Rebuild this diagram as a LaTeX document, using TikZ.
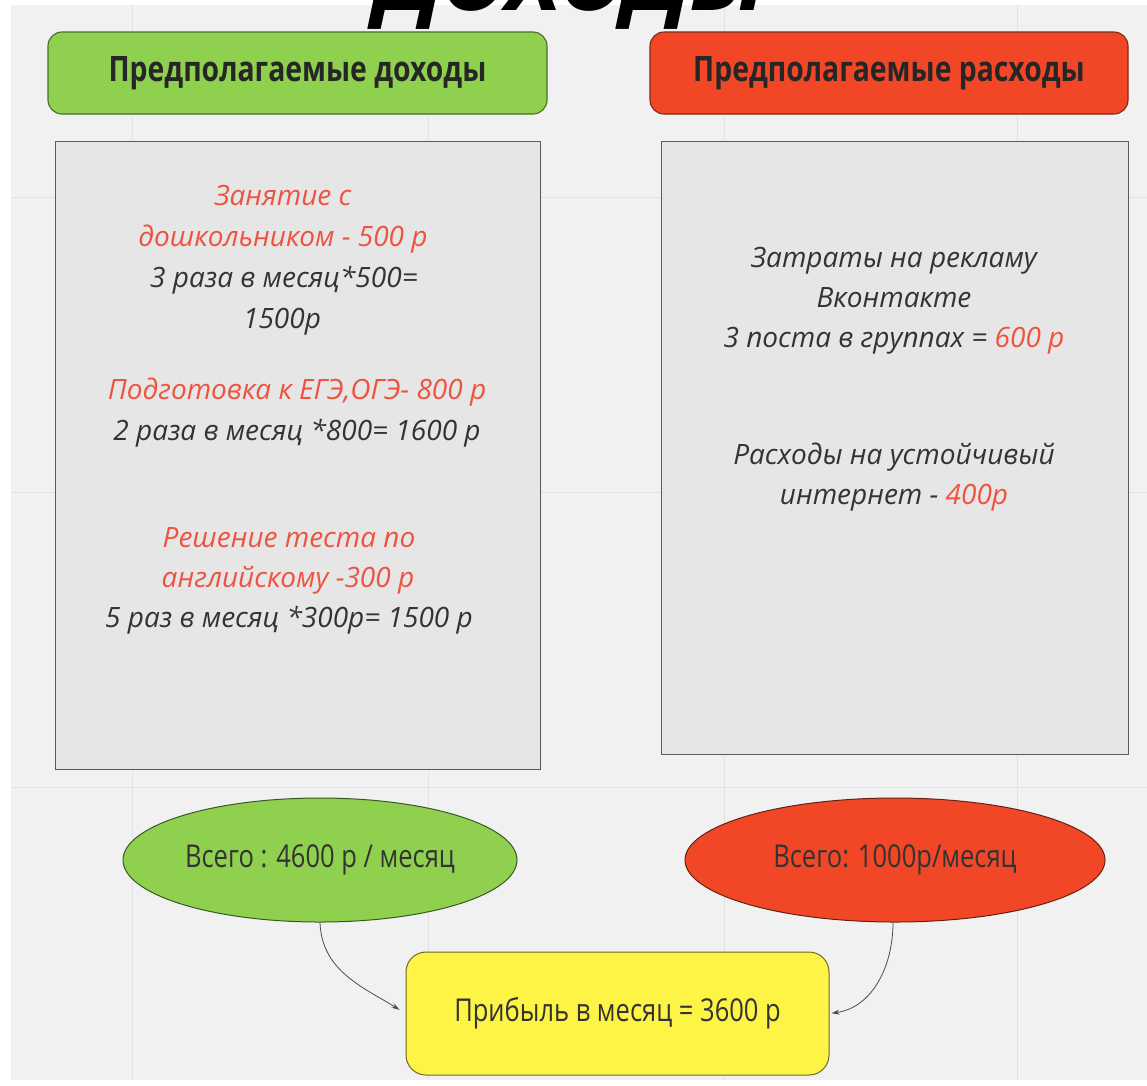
\documentclass[tikz,border=0pt]{standalone}
\usepackage{fontspec}
\setmainfont{Open Sans}
\newfontfamily\condfont[FakeStretch=0.81]{Open Sans}
\usetikzlibrary{shapes.geometric,arrows.meta}
\definecolor{canvas}{HTML}{F1F1F1}
\definecolor{gridc}{HTML}{E2E2E2}
\definecolor{greenf}{HTML}{8FD14F}
\definecolor{greenb}{HTML}{4A6E2A}
\definecolor{redf}{HTML}{F24726}
\definecolor{redb}{HTML}{7E2A18}
\definecolor{greyf}{HTML}{E6E6E6}
\definecolor{greyb}{HTML}{5A5A5A}
\definecolor{yelf}{HTML}{FEF445}
\definecolor{yelb}{HTML}{6E6A2A}
\definecolor{txtred}{HTML}{EE5340}
\definecolor{txtdark}{HTML}{333333}
\begin{document}
\begin{tikzpicture}[x=1pt,y=1pt,
  ln/.style={anchor=base,inner sep=0pt,font=\fontsize{28}{32}\selectfont\itshape,text=txtdark},
  lnred/.style={ln,text=txtred},
  header/.style={draw,line width=1.1pt,rounded corners=14pt,inner sep=0pt,
    font=\condfont\bfseries\fontsize{35}{38}\selectfont,text=black!85},
  panel/.style={draw=greyb,fill=greyf,line width=1pt,inner sep=0pt},
  total/.style={ellipse,draw,line width=1pt,inner sep=0pt,
    font=\condfont\fontsize{31.5}{34}\selectfont,text=black!80},
  result/.style={draw=yelb,fill=yelf,line width=1pt,rounded corners=20pt,inner sep=0pt,
    font=\condfont\fontsize{31.5}{34}\selectfont,text=black!80},
  link/.style={draw=black!70,line width=0.8pt,-{Stealth[length=8pt,width=5pt]}}
]
\useasboundingbox (0,0) rectangle (1147,-1085);
\fill[white] (0,0) rectangle (1147,-1085);
\fill[canvas] (11,-5) rectangle (1147,-1080);
% grid
\foreach \gx in {132,428,724,1017} \draw[gridc,line width=1pt] (\gx,-5) -- (\gx,-1080);
\foreach \gy in {197,492,787} \draw[gridc,line width=1pt] (11,-\gy) -- (1147,-\gy);
% cropped title
\begin{scope}
\clip (0,0) rectangle (1147,-1085);
\node[anchor=base,inner sep=0pt,font=\fontsize{91}{91}\selectfont\bfseries\itshape] (title) at (572,-10) {ДОХОДЫ};
\end{scope}
% headers
\node[header,fill=greenf,draw=greenb,minimum width=499pt,minimum height=82pt] (hin) at (297.5,-73) {Предполагаемые доходы};
\node[header,fill=redf,draw=redb,minimum width=478pt,minimum height=82pt] (hout) at (889,-73) {Предполагаемые расходы};
% panels
\node[panel,minimum width=485pt,minimum height=628pt] (pin) at (297.5,-455) {};
\node[panel,minimum width=467pt,minimum height=613pt] (pout) at (894.5,-447.5) {};
% left panel text
\node[lnred] (l1) at (283,-205) {Занятие с};
\node[lnred] (l2) at (283,-246) {дошкольником - 500 р};
\node[ln] (l3) at (284,-287) {3 раза в месяц*500=};
\node[ln] (l4) at (282,-328) {1500р};
\node[lnred] (l5) at (297,-399) {Подготовка к ЕГЭ,ОГЭ- 800 р};
\node[ln] (l6) at (297,-440) {2 раза в месяц *800= 1600 р};
\node[lnred] (l7) at (289,-547) {Решение теста по};
\node[lnred] (l8) at (288,-587) {английскому -300 р};
\node[ln] (l9) at (289,-627) {5 раз в месяц *300р= 1500 р};
% right panel text
\node[ln] (r1) at (894,-267) {Затраты на рекламу};
\node[ln] (r2) at (894,-307) {Вконтакте};
\node[ln] (r3) at (894,-347) {3 поста в группах = \textcolor{txtred}{600 р}};
\node[ln] (r4) at (894,-464) {Расходы на устойчивый};
\node[ln] (r5) at (894,-504) {интернет - \textcolor{txtred}{400р}};
% totals
\node[total,fill=greenf,draw=greenb!80!black,minimum width=394pt,minimum height=124pt] (tin) at (320,-860) {Всего : 4600 р / месяц};
\node[total,fill=redf,draw=redb!80!black,minimum width=420pt,minimum height=124pt] (tout) at (895,-860) {Всего: 1000р/месяц};
% result
\node[result,minimum width=423pt,minimum height=123pt] (res) at (617.5,-1013.5) {Прибыль в месяц = 3600 р};
% connectors
\draw[link,shorten >=7pt] (tin.south) to[out=-88,in=148] (res.west);
\draw[link,shorten >=2pt] (tout.south -| 893,0) to[out=-90,in=8] (res.east);
\end{tikzpicture}
\end{document}
